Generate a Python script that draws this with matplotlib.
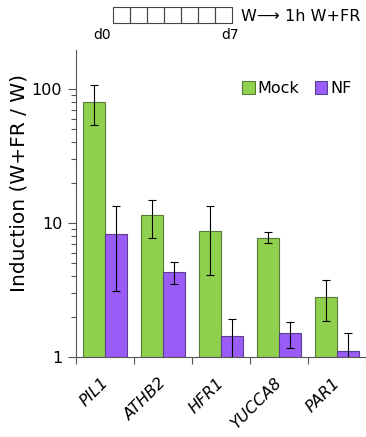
import numpy as np
import matplotlib.pyplot as plt
from matplotlib.patches import Rectangle
from matplotlib.ticker import LogLocator, NullFormatter, FixedLocator

genes = ["PIL1", "ATHB2", "HFR1", "YUCCA8", "PAR1"]
mock = [80, 11.4, 8.7, 7.7, 2.8]
mock_hi = [107, 14.9, 13.5, 8.5, 3.76]
mock_lo = [54, 7.7, 4.1, 7.1, 1.87]
nf = [8.3, 4.3, 1.44, 1.5, 1.1]
nf_hi = [13.5, 5.1, 1.92, 1.83, 1.5]
nf_lo = [3.1, 3.5, 0.98, 1.17, 0.8]

green = "#8fd14f"
purple = "#9a5cf7"

fig = plt.figure(figsize=(3.66, 4.37), dpi=100)
ax = fig.add_axes([0.208, 0.183, 0.795, 0.703])

x = np.arange(len(genes)) + 0.5
w = 0.38
ax.bar(x - w / 2, mock, w, color=green, edgecolor="#5a7a3a", linewidth=0.8, label="Mock")
ax.bar(x + w / 2, nf, w, color=purple, edgecolor="#5a3f8f", linewidth=0.8, label="NF")
ax.errorbar(x - w / 2, mock, yerr=[np.array(mock) - mock_lo, np.array(mock_hi) - mock],
            fmt="none", ecolor="black", elinewidth=0.8, capsize=3, capthick=0.8)
ax.errorbar(x + w / 2, nf, yerr=[np.array(nf) - nf_lo, np.array(nf_hi) - nf],
            fmt="none", ecolor="black", elinewidth=0.8, capsize=3, capthick=0.8)

ax.set_yscale("log")
ax.set_ylim(1, 196)
ax.set_xlim(0, 5.02)
ax.yaxis.set_major_locator(FixedLocator([1, 10, 100]))
ax.set_yticklabels(["1", "10", "100"], fontsize=11.5)
ax.yaxis.set_minor_locator(LogLocator(base=10, subs=np.arange(2, 10)))
ax.yaxis.set_minor_formatter(NullFormatter())
ax.tick_params(axis="y", which="major", length=6, width=0.8, color="#555555", pad=4)
ax.tick_params(axis="y", which="minor", length=3.5, width=0.8, color="#555555")

ax.set_xticks(np.arange(0, 6))
ax.set_xticklabels([])
# labels sit slightly left of the group centre
ax.set_xticks(x - 0.08, minor=True)
ax.set_xticklabels(genes, minor=True, rotation=45, ha="right", rotation_mode="anchor",
                   fontsize=11.5, style="italic")
ax.tick_params(axis="x", which="minor", length=0, pad=13)
ax.tick_params(axis="x", which="major", length=5, width=0.8, color="#555555")

for s in ["top", "right"]:
    ax.spines[s].set_visible(False)
for s in ["left", "bottom"]:
    ax.spines[s].set_color("#555555")
    ax.spines[s].set_linewidth(0.8)

ax.set_ylabel("Induction (W+FR / W)", fontsize=14.5)
ax.yaxis.set_label_coords(-0.165, 0.567)

ax.legend(loc="upper right", bbox_to_anchor=(0.995, 0.945), frameon=False, fontsize=11.5,
          ncol=2, handlelength=0.8, handleheight=0.8, handletextpad=0.15, columnspacing=1.0)

# schematic at top
bx0, by0, bw, bh = 113, 7, 17, 16
for i in range(7):
    fig.patches.append(Rectangle(((bx0 + i * bw) / 366, 1 - (by0 + bh) / 437), bw / 366, bh / 437,
                                 transform=fig.transFigure, fill=False, edgecolor="#444444", linewidth=0.8))
fig.text(102 / 366, 1 - 39 / 437, "d0", fontsize=10, ha="center")
fig.text(230 / 366, 1 - 39 / 437, "d7", fontsize=10, ha="center")
fig.text(241 / 366, 1 - 21 / 437, "W\u27f6 1h W+FR", fontsize=11.5, ha="left")

fig.savefig("out.png", dpi=100)
